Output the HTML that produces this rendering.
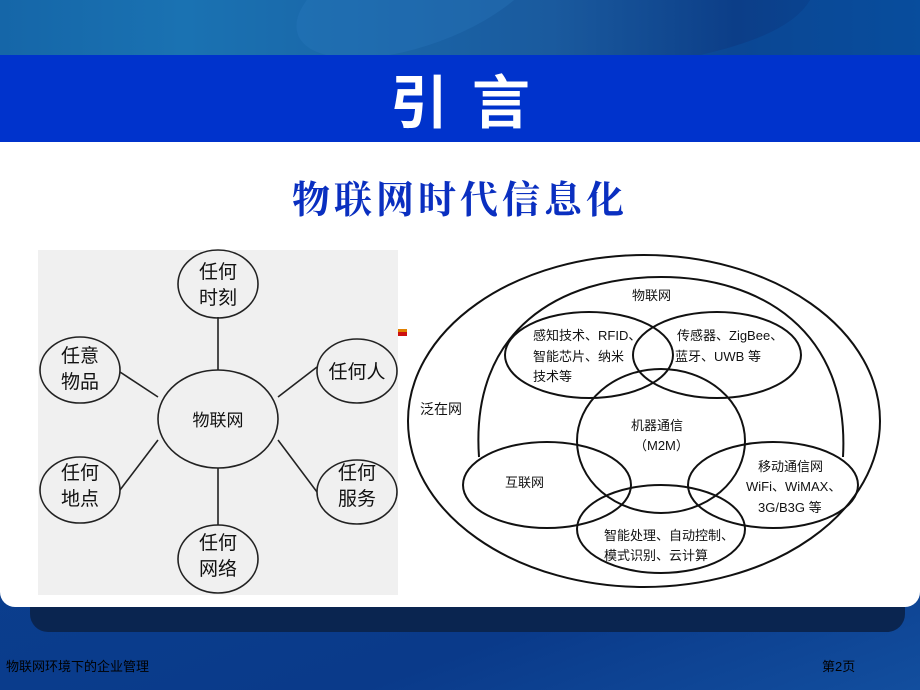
<!DOCTYPE html>
<html><head><meta charset="utf-8"><style>
html,body{margin:0;padding:0}
body{width:920px;height:690px;position:relative;overflow:hidden;background:linear-gradient(160deg,#1a5aa8 0%,#0b3f8e 50%,#0a3a8a 80%,#124e9e 100%);font-family:"Liberation Sans","Noto Sans CJK SC",sans-serif}
#top{position:absolute;left:0;top:0;width:920px;height:55px;background:linear-gradient(90deg,#1566a8 0%,#1a72b2 20%,#1a5a9e 60%,#0c3e88 80%,#064a9a 100%);overflow:hidden}
#band{position:absolute;left:0;top:55px;width:920px;height:87px;background:#0033cc}
#band div{position:absolute;left:0;width:920px;top:8px;text-align:center;color:#fff;font-size:58px;font-weight:bold;letter-spacing:24px;font-family:"Noto Sans CJK SC",sans-serif;line-height:70px;text-indent:24px}
#panel{position:absolute;left:0;top:142px;width:920px;height:465px;background:#fff;border-radius:0 0 15px 15px}
#dark{position:absolute;left:30px;top:600px;width:875px;height:32px;background:#0a2550;border-radius:0 0 18px 18px}
#sub{position:absolute;left:0;width:920px;top:172px;text-align:center;color:#0a2fc0;font-size:38px;font-weight:bold;letter-spacing:4px;font-family:"Noto Serif CJK SC",serif;line-height:50px}
.ft{position:absolute;top:656px;font-size:13px;color:#000}
</style></head><body>
<div id="top"><svg width="920" height="55" style="position:absolute;left:0;top:0"><ellipse cx="420" cy="-10" rx="130" ry="55" transform="rotate(-20 420 -10)" fill="#2a7cc0" opacity="0.3"/><path d="M920 0 L810 0 Q790 35 700 55 L920 55Z" fill="#0a4fa0" opacity="0.5"/></svg></div>
<div id="band"><div>引言</div></div>
<div id="dark"></div>
<div id="panel"></div>
<div id="sub">物联网时代信息化</div>
<svg width="920" height="690" style="position:absolute;left:0;top:0" font-family="Liberation Sans, Noto Sans CJK SC, sans-serif">
<rect x="38" y="250" width="360" height="345" fill="#f0f0f0"/>
<g stroke="#222" stroke-width="1.6" fill="none">
<line x1="218" y1="317" x2="218" y2="370"/>
<line x1="218" y1="468" x2="218" y2="525"/>
<line x1="120" y1="372" x2="158" y2="397"/>
<line x1="278" y1="397" x2="317" y2="367"/>
<line x1="158" y1="440" x2="120" y2="490"/>
<line x1="278" y1="440" x2="317" y2="492"/>
<ellipse cx="218" cy="419" rx="60" ry="49"/>
<ellipse cx="218" cy="284" rx="40" ry="34"/>
<ellipse cx="80" cy="370" rx="40" ry="33"/>
<ellipse cx="357" cy="371" rx="40" ry="32"/>
<ellipse cx="80" cy="490" rx="40" ry="33"/>
<ellipse cx="357" cy="492" rx="40" ry="32"/>
<ellipse cx="218" cy="559" rx="40" ry="34"/>
</g>
<g font-size="19" fill="#111" text-anchor="middle">
<text x="218" y="426" font-size="17">物联网</text>
<text x="218" y="278">任何</text><text x="218" y="304">时刻</text>
<text x="80" y="362">任意</text><text x="80" y="388">物品</text>
<text x="357" y="378">任何人</text>
<text x="80" y="479">任何</text><text x="80" y="505">地点</text>
<text x="357" y="479">任何</text><text x="357" y="505">服务</text>
<text x="218" y="549">任何</text><text x="218" y="575">网络</text>
</g>
<rect x="398" y="329" width="9" height="3" fill="#e08000"/><rect x="398" y="332" width="9" height="4" fill="#cc1010"/>
<g stroke="#111" stroke-width="2" fill="none">
<ellipse cx="644" cy="421" rx="236" ry="166"/>
<path d="M479 457 C470 330 560 277 661 277 C760 277 850 330 843 457"/>
<ellipse cx="589" cy="355" rx="84" ry="43"/>
<ellipse cx="717" cy="355" rx="84" ry="43"/>
<ellipse cx="661" cy="441" rx="84" ry="72"/>
<ellipse cx="547" cy="485" rx="84" ry="43"/>
<ellipse cx="773" cy="485" rx="85" ry="43"/>
<ellipse cx="661" cy="529" rx="84" ry="44"/>
</g>
<g font-size="13" fill="#111">
<text x="632" y="300">物联网</text>
<text x="533" y="340">感知技术、RFID、</text>
<text x="533" y="361">智能芯片、纳米</text>
<text x="533" y="381">技术等</text>
<text x="677" y="340">传感器、ZigBee、</text>
<text x="675" y="361">蓝牙、UWB 等</text>
<text x="420" y="414" font-size="14">泛在网</text>
<text x="631" y="430">机器通信</text>
<text x="634" y="450">（M2M）</text>
<text x="505" y="487">互联网</text>
<text x="758" y="471">移动通信网</text>
<text x="746" y="491">WiFi、WiMAX、</text>
<text x="758" y="512">3G/B3G 等</text>
<text x="604" y="540">智能处理、自动控制、</text>
<text x="604" y="560">模式识别、云计算</text>
</g>
</svg>
<div class="ft" style="left:6px">物联网环境下的企业管理</div>
<div class="ft" style="left:822px">第2页</div>
</body></html>
